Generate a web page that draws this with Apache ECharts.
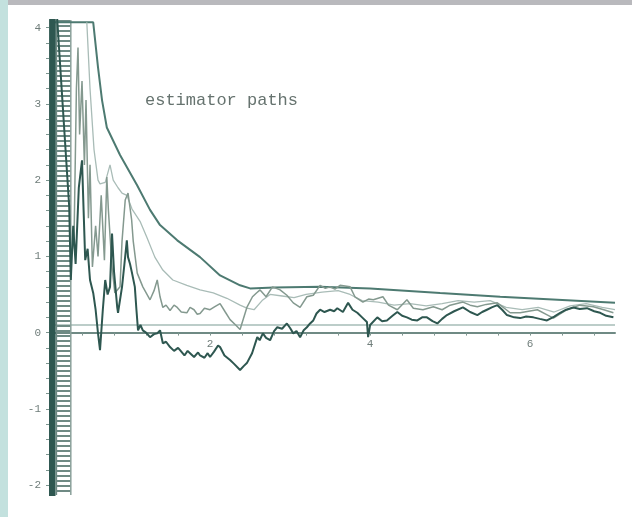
<!DOCTYPE html>
<html>
<head>
<meta charset="utf-8">
<script src="https://cdn.jsdelivr.net/npm/echarts@6/dist/echarts.min.js"></script>
<style>
  html, body { margin: 0; padding: 0; background: #fff; }
  #chart { width: 632px; height: 517px; }
</style>
</head>
<body>
<div id="chart"></div>
<script>
// tick positions and labels
var xTicks = [0.4, 0.8, 1.2, 1.6, 2, 2.4, 2.8, 3.2, 3.6, 4, 4.4, 4.8, 5.2, 5.6, 6, 6.4, 6.8];
var xLabels = [2, 4, 6];
var yTicks = [-2, -1.8, -1.6, -1.4, -1.2, -1, -0.8, -0.6, -0.4, -0.2, 0, 0.2, 0.4, 0.6, 0.8, 1,
  1.2, 1.4, 1.6, 1.8, 2, 2.2, 2.4, 2.6, 2.8, 3, 3.2, 3.4, 3.6, 3.8, 4];
var yLabels = [-2, -1, 0, 1, 2, 3, 4];

// reference level
var refLevel = [[0, 0.1], [7.06, 0.1]];

// upper envelope
var envelope = [[0, 4.07], [0.54, 4.07], [0.6, 3.48], [0.65, 3.05], [0.71, 2.69], [0.875, 2.33],
  [1.09, 1.93], [1.25, 1.61], [1.375, 1.41], [1.59, 1.21], [1.875, 0.99], [2.125, 0.75],
  [2.375, 0.62], [2.5, 0.58], [2.8, 0.59], [3.375, 0.6], [4.0, 0.58], [4.875, 0.52],
  [5.625, 0.47], [7.06, 0.39]];

// light path
var pathB = [[0.46, 4.07], [0.5, 3.2], [0.55, 2.4], [0.6, 2.0], [0.625, 1.95], [0.69, 1.97],
  [0.75, 2.2], [0.79, 2.0], [0.85, 1.9], [0.9, 1.83], [0.96, 1.8], [1.025, 1.62], [1.125, 1.46],
  [1.21, 1.25], [1.31, 0.99], [1.41, 0.82], [1.535, 0.69], [1.71, 0.62], [1.875, 0.56],
  [2.04, 0.52], [2.21, 0.45], [2.375, 0.36], [2.46, 0.32], [2.55, 0.3], [2.65, 0.42],
  [2.75, 0.5], [2.9, 0.48], [3.05, 0.46], [3.2, 0.5], [3.4, 0.53], [3.6, 0.55], [3.75, 0.5],
  [3.9, 0.42], [4.1, 0.4], [4.3, 0.36], [4.5, 0.38], [4.7, 0.35], [4.9, 0.38], [5.1, 0.42],
  [5.3, 0.4], [5.5, 0.42], [5.7, 0.33], [5.9, 0.3], [6.1, 0.33], [6.3, 0.27], [6.5, 0.35],
  [6.7, 0.38], [6.9, 0.33], [7.06, 0.3]];

// medium path: early burst band (centre and edges), then the path itself
var burstCentre = [[0.17, 4.1], [0.17, -2.13]];
var burstLeft = [[0.08, 4.1], [0.08, -2.13]];
var burstRight = [[0.26, 4.1], [0.26, -2.13]];
var pathC = [[0.26, 1.0], [0.3, 1.2], [0.33, 3.2],
  [0.35, 3.74], [0.37, 2.6], [0.4, 3.3], [0.43, 2.2], [0.45, 3.05], [0.48, 1.5], [0.5, 2.2],
  [0.53, 0.86], [0.57, 1.4], [0.6, 1.0], [0.64, 1.8], [0.68, 0.95], [0.71, 2.04], [0.73, 1.6],
  [0.775, 0.86], [0.81, 0.52], [0.875, 0.6], [0.9, 1.2], [0.94, 1.74], [0.975, 1.83],
  [1.02, 1.48], [1.04, 1.2], [1.09, 0.78], [1.16, 0.6], [1.25, 0.43], [1.3, 0.55], [1.34, 0.69],
  [1.375, 0.47], [1.41, 0.33], [1.45, 0.36], [1.5, 0.29], [1.55, 0.36], [1.59, 0.33],
  [1.64, 0.27], [1.71, 0.26], [1.75, 0.33], [1.8, 0.3], [1.84, 0.24], [1.875, 0.25],
  [1.93, 0.32], [2.0, 0.3], [2.06, 0.34], [2.125, 0.38], [2.19, 0.27], [2.25, 0.17],
  [2.32, 0.1], [2.375, 0.04], [2.46, 0.33], [2.53, 0.47], [2.58, 0.52], [2.625, 0.56],
  [2.7, 0.47], [2.78, 0.6], [2.875, 0.56], [2.96, 0.49], [3.04, 0.39], [3.125, 0.33],
  [3.21, 0.47], [3.29, 0.49], [3.375, 0.62], [3.44, 0.58], [3.5, 0.6], [3.56, 0.57],
  [3.625, 0.62], [3.75, 0.6], [3.81, 0.47], [3.91, 0.4], [3.98, 0.44], [4.04, 0.43],
  [4.16, 0.47], [4.23, 0.36], [4.34, 0.3], [4.46, 0.43], [4.54, 0.32], [4.66, 0.3],
  [4.79, 0.34], [4.9, 0.3], [5.0, 0.36], [5.16, 0.4], [5.25, 0.36], [5.34, 0.34],
  [5.45, 0.37], [5.59, 0.39], [5.75, 0.26], [5.875, 0.26], [5.98, 0.28], [6.09, 0.3],
  [6.2, 0.24], [6.29, 0.19], [6.38, 0.25], [6.46, 0.3], [6.62, 0.36], [6.79, 0.34],
  [6.92, 0.3], [7.04, 0.26]];

// dark path
var pathD = [[0, -2.6], [0.004, 4.6], [0.008, -2.6], [0.012, 4.6], [0.016, -2.6], [0.02, 4.6],
  [0.024, -2.6], [0.028, 4.6], [0.032, -2.6], [0.036, 4.6], [0.04, -2.6], [0.044, 4.6],
  [0.048, -2.6], [0.052, 4.6], [0.056, -2.6], [0.06, 4.6], [0.24, 1.65], [0.26, 0.69],
  [0.29, 1.4], [0.32, 0.9], [0.36, 1.9], [0.4, 2.26], [0.42, 1.6], [0.44, 0.95], [0.47, 1.1],
  [0.5, 0.69], [0.54, 0.52], [0.57, 0.3], [0.6, -0.01], [0.625, -0.23], [0.66, 0.3],
  [0.69, 0.69], [0.72, 0.5], [0.75, 0.6], [0.775, 1.3], [0.8, 0.8], [0.84, 0.33], [0.85, 0.26],
  [0.9, 0.6], [0.93, 0.9], [0.96, 1.21], [0.975, 0.99], [1.0, 0.9], [1.025, 0.78], [1.06, 0.6],
  [1.08, 0.3], [1.1, 0.03], [1.13, 0.1], [1.16, 0.03], [1.2, 0.0], [1.25, -0.06], [1.3, -0.02],
  [1.34, -0.01], [1.375, 0.03], [1.41, -0.14], [1.45, -0.12], [1.5, -0.19], [1.55, -0.24],
  [1.6, -0.2], [1.625, -0.23], [1.68, -0.3], [1.72, -0.24], [1.75, -0.27], [1.8, -0.32],
  [1.85, -0.26], [1.875, -0.3], [1.93, -0.33], [1.97, -0.27], [2.0, -0.32], [2.05, -0.25],
  [2.1, -0.17], [2.125, -0.19], [2.18, -0.3], [2.25, -0.36], [2.3, -0.41], [2.375, -0.49],
  [2.42, -0.44], [2.46, -0.4], [2.525, -0.27], [2.59, -0.06], [2.62, -0.1], [2.66, -0.01],
  [2.7, -0.07], [2.75, -0.1], [2.8, 0.02], [2.84, 0.07], [2.9, 0.05], [2.96, 0.12], [3.0, 0.06],
  [3.04, -0.01], [3.08, 0.02], [3.125, -0.06], [3.17, 0.03], [3.21, 0.07], [3.25, 0.12],
  [3.29, 0.16], [3.33, 0.25], [3.375, 0.3], [3.43, 0.27], [3.5, 0.3], [3.55, 0.28],
  [3.59, 0.32], [3.66, 0.27], [3.725, 0.39], [3.78, 0.3], [3.84, 0.26], [3.9, 0.2],
  [3.96, 0.14], [3.975, -0.06], [4.0, 0.1], [4.09, 0.2], [4.15, 0.15], [4.21, 0.16],
  [4.28, 0.22], [4.34, 0.27], [4.4, 0.22], [4.46, 0.2], [4.52, 0.17], [4.59, 0.16],
  [4.65, 0.2], [4.71, 0.2], [4.78, 0.15], [4.84, 0.12], [4.9, 0.18], [4.96, 0.23],
  [5.05, 0.28], [5.16, 0.33], [5.25, 0.27], [5.34, 0.23], [5.4, 0.27], [5.46, 0.3],
  [5.52, 0.33], [5.59, 0.36], [5.65, 0.3], [5.71, 0.23], [5.8, 0.2], [5.875, 0.19],
  [5.95, 0.21], [6.04, 0.2], [6.12, 0.18], [6.21, 0.16], [6.3, 0.21], [6.375, 0.26],
  [6.45, 0.3], [6.54, 0.33], [6.62, 0.31], [6.71, 0.32], [6.8, 0.28], [6.875, 0.26],
  [6.95, 0.22], [7.04, 0.2]];

var monoFont = '"Liberation Mono", "DejaVu Sans Mono", monospace';
var yMin = -2.13, yMax = 4.1, gridTop = 20, gridBottom = 22;
var plotH = 517 - gridTop - gridBottom;
// move the x axis up to y = 0
var xAxisOffset = -plotH * (0 - yMin) / (yMax - yMin);

function lineSeries(data, color, width, z, dash) {
    return {
        type: 'line',
        data: data,
        symbol: 'none',
        z: z,
        lineStyle: { color: color, width: width, type: dash || 'solid', cap: 'butt' },
        silent: true
    };
}

var chart = echarts.init(document.getElementById('chart'));
chart.setOption({
    animation: false,
    backgroundColor: '#ffffff',
    graphic: [
        { type: 'rect', left: 0, top: 0, shape: { width: 632, height: 5 }, style: { fill: '#b9b9bd' } },
        { type: 'rect', left: 0, top: 0, shape: { width: 8, height: 517 }, style: { fill: '#c3e1de' } },
        {
            type: 'text', left: 145, top: 92,
            style: { text: 'estimator paths', fill: '#66736f', font: '17px ' + monoFont }
        }
    ],
    grid: { left: 50, right: 17, top: gridTop, bottom: gridBottom },
    xAxis: {
        type: 'value',
        min: 0,
        max: 7.06,
        offset: xAxisOffset,
        splitLine: { show: false },
        axisLine: { onZero: false, lineStyle: { color: '#6f8a84', width: 2 } },
        axisTick: { customValues: xTicks, length: 3, lineStyle: { color: '#7d958f' } },
        axisLabel: {
            customValues: xLabels, margin: 6,
            color: '#6f7d7a', fontSize: 11, fontFamily: monoFont
        }
    },
    yAxis: {
        type: 'value',
        min: yMin,
        max: yMax,
        splitLine: { show: false },
        axisLine: { lineStyle: { color: '#6f8a84', width: 2 } },
        axisTick: { customValues: yTicks, length: 4, lineStyle: { color: '#7d958f' } },
        axisLabel: {
            customValues: yLabels, margin: 9,
            color: '#6f7d7a', fontSize: 11, fontFamily: monoFont
        }
    },
    series: [
        lineSeries(refLevel, '#bccdc9', 2, 1),
        lineSeries(burstCentre, '#6f8a84', 14, 2, [2, 3]),
        lineSeries(burstLeft, '#6f8a84', 1.5, 2),
        lineSeries(burstRight, '#8aa09a', 1.5, 2),
        lineSeries(envelope, '#4d7a71', 2, 3),
        lineSeries(pathB, '#a9bcb7', 1.3, 4),
        lineSeries(pathC, '#84998f', 1.5, 5),
        lineSeries(pathD, '#2e5750', 2, 6)
    ]
});
</script>
</body>
</html>
